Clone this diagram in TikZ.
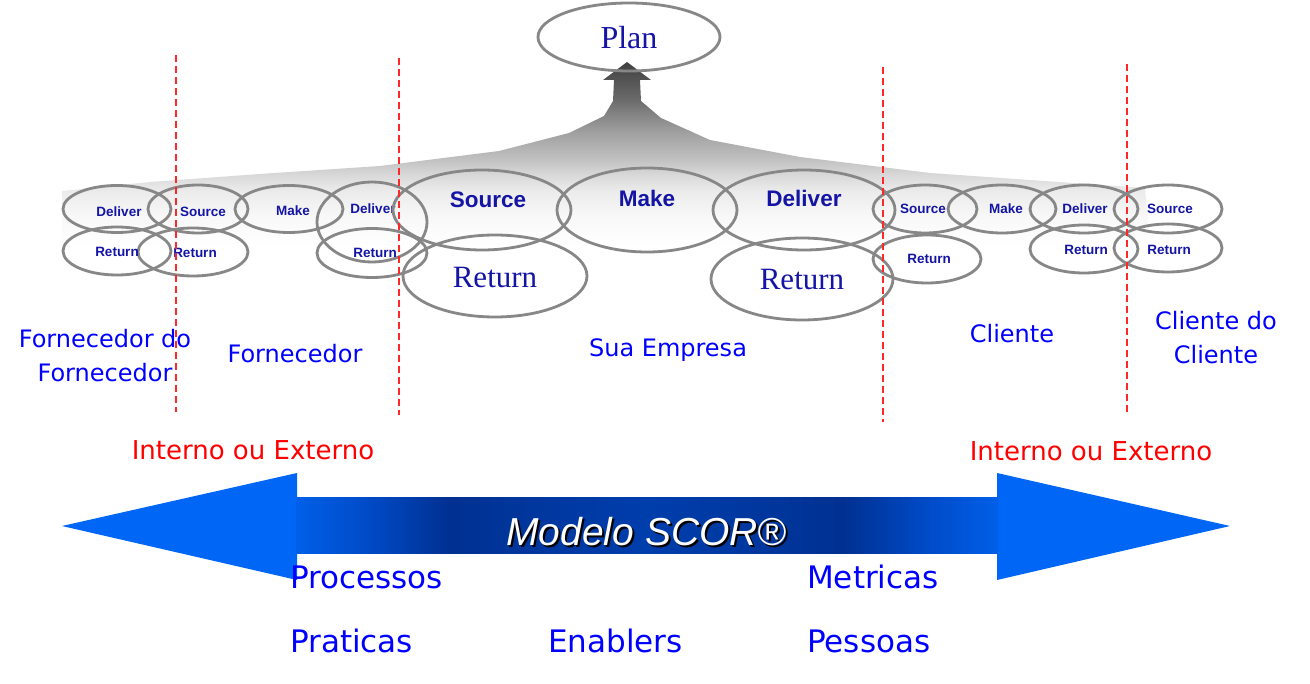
\documentclass[tikz,border=0pt]{standalone}
\usepackage{fontspec}
\usetikzlibrary{shapes.geometric}
\newfontfamily\dvfont{DejaVu Sans}
\newfontfamily\lasfont{Liberation Sans}
\newfontfamily\serfont{Liberation Serif}
\definecolor{ellgray}{RGB}{135,135,135}
\definecolor{navy}{RGB}{20,20,165}
\definecolor{lblue}{RGB}{0,0,255}
\definecolor{redtxt}{RGB}{255,0,0}
\definecolor{sepred}{RGB}{255,40,40}
\definecolor{headblue}{RGB}{0,102,245}
\definecolor{sA}{RGB}{0,95,232}
\definecolor{sB}{RGB}{0,75,200}
\definecolor{sC}{RGB}{0,48,145}
\definecolor{sD}{RGB}{0,55,158}
\definecolor{sE}{RGB}{0,62,172}
\definecolor{gA}{gray}{1}
\definecolor{gB}{gray}{0.97}
\definecolor{gC}{gray}{0.92}
\definecolor{gD}{gray}{0.85}
\definecolor{gE}{gray}{0.75}
\definecolor{gF}{gray}{0.63}
\definecolor{gG}{gray}{0.53}
\definecolor{gH}{gray}{0.42}
\definecolor{gI}{gray}{0.33}
\definecolor{gJ}{gray}{0.25}
\pgfdeclarehorizontalshading{shaftsh}{100bp}{color(0bp)=(sA); color(25bp)=(sA); color(30bp)=(sB); color(36bp)=(sC); color(42bp)=(sD); color(50bp)=(sE); color(58bp)=(sD); color(64bp)=(sC); color(70bp)=(sB); color(75bp)=(sA); color(100bp)=(sA)}
\pgfdeclareverticalshading{fansh}{100bp}{color(0bp)=(gA); color(25bp)=(gA); color(33.2bp)=(gB); color(40bp)=(gC); color(44.1bp)=(gD); color(48.8bp)=(gE); color(55.6bp)=(gF); color(60.2bp)=(gG); color(64.6bp)=(gH); color(70.1bp)=(gI); color(75bp)=(gJ); color(100bp)=(gJ)}
\tikzset{
  ell/.style={draw=ellgray, line width=2.8pt, ellipse, inner sep=0pt},
  st/.style={font=\lasfont\bfseries\fontsize{13.5}{16}\selectfont, text=navy, inner sep=0pt},
  bt/.style={font=\lasfont\bfseries\fontsize{22.5}{26}\selectfont, text=navy, inner sep=0pt},
  rt/.style={font=\serfont\fontsize{31}{34}\selectfont, text=navy, inner sep=0pt},
  lab/.style={font=\dvfont\fontsize{24}{34}\selectfont, text=lblue, align=center, inner sep=0pt},
  redlab/.style={font=\dvfont\fontsize{26}{30}\selectfont, text=redtxt, inner sep=0pt},
  botlab/.style={font=\dvfont\fontsize{31}{36}\selectfont, text=lblue, anchor=base west, inner sep=0pt},
  sepline/.style={draw=sepred, line width=1.6pt, dash pattern=on 7pt off 4pt},
}
\begin{document}
\begin{tikzpicture}[x=1pt,y=-1pt]
\useasboundingbox (0,0) rectangle (1310,684);
\fill[white] (0,0) rectangle (1310,684);
% gray fan with arrow to Plan
\shade[shading=fansh] (627,62) -- (651,80) -- (640,80) -- (641,101) -- (661,118) -- (710,140) -- (800,157) -- (930,173) -- (1030,180) -- (1145,188) -- (1150,245) -- (62,245) -- (62,191) -- (150,182) -- (260,174) -- (380,166) -- (499,151) -- (569,133) -- (604,116) -- (613,101) -- (614,80) -- (603,80) -- cycle;
% Plan
\node[ell, minimum width=182pt, minimum height=68pt] (plan) at (629,37) {};
\node[font=\serfont\fontsize{32}{34}\selectfont, text=navy, inner sep=0pt] (plant) at (629,38) {Plan};
% left small group
\node[ell, minimum width=108pt, minimum height=47pt] (d1) at (117,209) {};
\node[ell, minimum width=100pt, minimum height=48pt] (s1) at (198,209) {};
\node[ell, minimum width=108pt, minimum height=47pt] (m1) at (289,209) {};
\node[ell, minimum width=110pt, minimum height=80pt] (d2) at (372,222) {};
\node[ell, minimum width=108pt, minimum height=48pt] (r1) at (117,251) {};
\node[ell, minimum width=110pt, minimum height=48pt] (r2) at (193,252) {};
\node[ell, minimum width=110pt, minimum height=49pt] (r3) at (372,253) {};
\node[st] (d1t) at (119,212) {Deliver};
\node[st] (s1t) at (203,212) {Source};
\node[st] (m1t) at (293,211) {Make};
\node[st] (d2t) at (373,209) {Deliver};
\node[st] (r1t) at (117,252) {Return};
\node[st] (r2t) at (195,253) {Return};
\node[st] (r3t) at (375,253) {Return};
% big middle group
\node[ell, minimum width=178pt, minimum height=80pt] (sb) at (482,210) {};
\node[ell, minimum width=180pt, minimum height=84pt] (mb) at (647,210) {};
\node[ell, minimum width=182pt, minimum height=80pt] (db) at (804,210) {};
\node[ell, minimum width=184pt, minimum height=82pt] (rbl) at (495,276) {};
\node[ell, minimum width=182pt, minimum height=82pt] (rbr) at (802,279) {};
\node[bt] (sbt) at (488,200) {Source};
\node[bt] (mbt) at (647,198) {Make};
\node[bt] (dbt) at (804,198) {Deliver};
\node[rt] (rblt) at (495,278) {Return};
\node[rt] (rbrt) at (802,280) {Return};
% right small group
\node[ell, minimum width=104pt, minimum height=48pt] (s3) at (925,209) {};
\node[ell, minimum width=108pt, minimum height=48pt] (m3) at (1002,209) {};
\node[ell, minimum width=108pt, minimum height=48pt] (d3) at (1084,209) {};
\node[ell, minimum width=108pt, minimum height=48pt] (s4) at (1168,209) {};
\node[ell, minimum width=108pt, minimum height=48pt] (r4) at (927,259) {};
\node[ell, minimum width=108pt, minimum height=48pt] (r5) at (1084,249) {};
\node[ell, minimum width=108pt, minimum height=48pt] (r6) at (1168,248) {};
\node[st] (s3t) at (923,209) {Source};
\node[st] (m3t) at (1006,209) {Make};
\node[st] (d3t) at (1085,209) {Deliver};
\node[st] (s4t) at (1170,209) {Source};
\node[st] (r4t) at (929,259) {Return};
\node[st] (r5t) at (1086,250) {Return};
\node[st] (r6t) at (1169,250) {Return};
% participant labels
\node[lab] (ff) at (105,356) {Fornecedor do\\Fornecedor};
\node[lab] (forn) at (295,354) {Fornecedor};
\node[lab] (emp) at (668,350) {Sua Empresa};
\node[lab] (cli) at (1012,334) {Cliente};
\node[lab] (cc) at (1216,338) {Cliente do\\Cliente};
% separators
\coordinate (l1a) at (176,55);  \coordinate (l1b) at (176,412);
\coordinate (l2a) at (399,58);  \coordinate (l2b) at (399,415);
\coordinate (l3a) at (883,67);  \coordinate (l3b) at (883,422);
\coordinate (l4a) at (1127,64); \coordinate (l4b) at (1127,413);
\draw[sepline] (l1a) -- (l1b);
\draw[sepline] (l2a) -- (l2b);
\draw[sepline] (l3a) -- (l3b);
\draw[sepline] (l4a) -- (l4b);
% interno ou externo
\node[redlab] (ie1) at (253,450) {Interno ou Externo};
\node[redlab] (ie2) at (1091,451) {Interno ou Externo};
% big double arrow
\fill[headblue] (62,526) -- (297,473) -- (297,580) -- cycle;
\fill[headblue] (1230,526) -- (997,473) -- (997,580) -- cycle;
\shade[shading=shaftsh] (296,498) rectangle (998,553);
\node[font=\lasfont\itshape\fontsize{39}{42}\selectfont, text=black, anchor=base, inner sep=0pt] (scorsh) at (648.5,547.5) {Modelo SCOR®};
\node[font=\lasfont\itshape\fontsize{39}{42}\selectfont, text=white, anchor=base, inner sep=0pt] (scor) at (646.5,545.5) {Modelo SCOR®};
% bottom labels
\node[botlab] (proc) at (290,588) {Processos};
\node[botlab] (prat) at (290,652) {Praticas};
\node[botlab] (enab) at (548,652) {Enablers};
\node[botlab] (metr) at (807,588) {Metricas};
\node[botlab] (pess) at (807,652) {Pessoas};
\end{tikzpicture}
\end{document}
